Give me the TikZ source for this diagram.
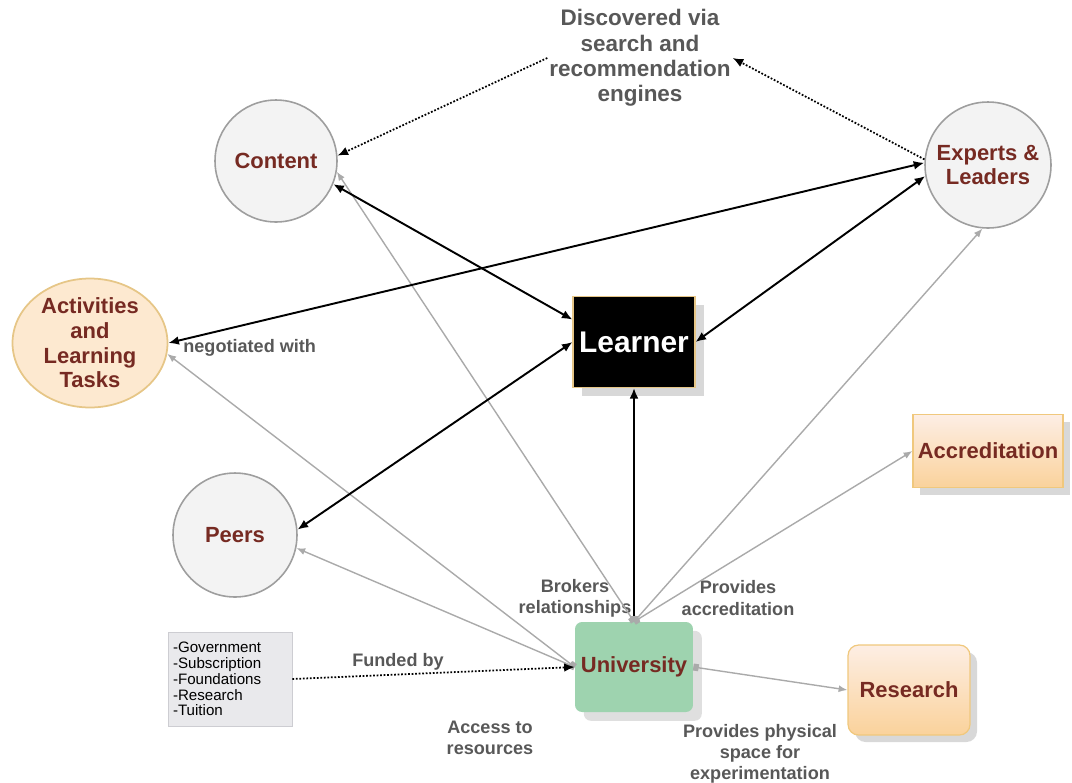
\documentclass[tikz,border=0pt]{standalone}
\usepackage{fontspec}
\setmainfont{Liberation Sans}
\usetikzlibrary{arrows.meta,shapes.geometric,shadows}

\definecolor{nodetext}{RGB}{118,42,34}
\definecolor{labelgray}{RGB}{88,88,88}
\definecolor{circfill}{RGB}{243,243,243}
\definecolor{circdraw}{RGB}{158,158,158}
\definecolor{actfill}{RGB}{253,233,208}
\definecolor{actdraw}{RGB}{230,198,135}
\definecolor{boxtop}{RGB}{253,238,228}
\definecolor{boxbot}{RGB}{250,210,155}
\definecolor{boxdraw}{RGB}{240,200,125}
\definecolor{unifill}{RGB}{158,211,175}
\definecolor{fundfill}{RGB}{233,233,236}
\definecolor{funddraw}{RGB}{205,205,210}
\definecolor{linkgray}{RGB}{170,170,170}

\begin{document}
\begin{tikzpicture}[x=0.02cm,y=-0.02cm,
    bignode/.style={font=\fontsize{12.5}{14}\selectfont\bfseries,text=nodetext,align=center,inner sep=0pt},
    circ/.style={bignode,circle,draw=circdraw,line width=0.9pt,fill=circfill,minimum size=#1},
    orangebox/.style={bignode,rectangle,draw=boxdraw,line width=0.7pt,top color=boxtop,bottom color=boxbot,
        drop shadow={shadow xshift=4pt,shadow yshift=-4pt,fill=black!30}},
    lbl/.style={font=\fontsize{10.3}{12}\selectfont\bfseries,text=labelgray,align=center,inner sep=0pt},
    strong/.style={{Latex[length=6pt,width=5pt]}-{Latex[length=6pt,width=5pt]},line width=1.1pt,black},
    weak/.style={{Square[length=3pt,width=4pt]}-{Latex[length=5pt,width=4pt]},line width=0.8pt,linkgray},
    found/.style={-{Latex[length=6pt,width=5pt]},line width=1pt,densely dotted,black}]

    \useasboundingbox (0,0) rectangle (1072,782);

    % nodes
    \node[circ=2.44cm] (content) at (276,161) {Content};
    \node[circ=2.52cm] (experts) at (988,165) {Experts \&\\Leaders};
    \node[circ=2.48cm] (peers) at (235,535) {Peers};
    \node[bignode,ellipse,draw=actdraw,line width=1pt,fill=actfill,minimum width=3.1cm,minimum height=2.58cm]
        (act) at (90,343) {Activities\\and\\Learning\\Tasks};
    \node[rectangle,draw=actdraw,fill=black,line width=0.6pt,minimum width=2.44cm,minimum height=1.82cm,
        text=white,font=\fontsize{17}{20}\selectfont\bfseries,
        drop shadow={shadow xshift=5pt,shadow yshift=-5pt,fill=black!30}] (learner) at (634,342) {Learner};
    \node[orangebox,minimum width=3.0cm,minimum height=1.46cm] (accr) at (988,451) {Accreditation};
    \node[bignode,rectangle,rounded corners=4pt,fill=unifill,minimum width=2.36cm,minimum height=1.8cm,
        drop shadow={shadow xshift=5pt,shadow yshift=-5pt,fill=black!25}] (univ) at (634,667) {University};
    \node[orangebox,rounded corners=6pt,minimum width=2.44cm,minimum height=1.8cm] (research) at (909,690) {Research};
    \node[rectangle,draw=funddraw,fill=fundfill,text width=2.28cm,minimum height=1.88cm,inner sep=0.1cm,
        align=left,font=\fontsize{8.6}{9}\selectfont] (fund) at (230,679)
        {-Government\\-Subscription\\-Foundations\\-Research\\-Tuition};
    \node[font=\fontsize{12.8}{14.4}\selectfont\bfseries,text=labelgray,align=center,inner sep=1pt]
        (disc) at (640,58) {Discovered via\\search and\\recommendation\\engines};

    % labels
    \node[lbl,anchor=west] (negot) at (183,348) {negotiated with};
    \node[lbl] (brokers) at (575,598) {Brokers\\relationships};
    \node[lbl] (provacc) at (738,598) {Provides\\accreditation};
    \node[lbl] (funded) at (398,662) {Funded by};
    \node[lbl] (access) at (490,738) {Access to\\resources};
    \node[lbl] (physical) at (760,754) {Provides physical\\space for\\experimentation};

    % university links
    \draw[weak] (univ.north) -- (content.-10);
    \draw[weak] (univ.north) -- (experts.265);
    \draw[weak] (univ.north) -- (accr.west);
    \draw[weak] (univ.west) -- (act.-8);
    \draw[weak] (univ.west) -- (peers.-12);
    \draw[weak] (univ.east) -- (research.west);

    % learner links
    \draw[strong] (content.-22) -- (learner.160);
    \draw[strong] (experts.190) -- (learner.east);
    \draw[strong] (experts.178) -- (act.east);
    \draw[strong] (learner.west) -- (peers.5);
    \draw[{Square[length=3pt,width=4pt,color=linkgray]}-{Latex[length=6pt,width=5pt]},line width=1.1pt] (univ.north) -- (learner.south);

    % discovery and funding
    \draw[found] (disc.west) -- (content.5);
    \draw[found] (experts.175) -- (disc.east);
    \draw[found] (fund.east) -- (univ.west);
\end{tikzpicture}
\end{document}
